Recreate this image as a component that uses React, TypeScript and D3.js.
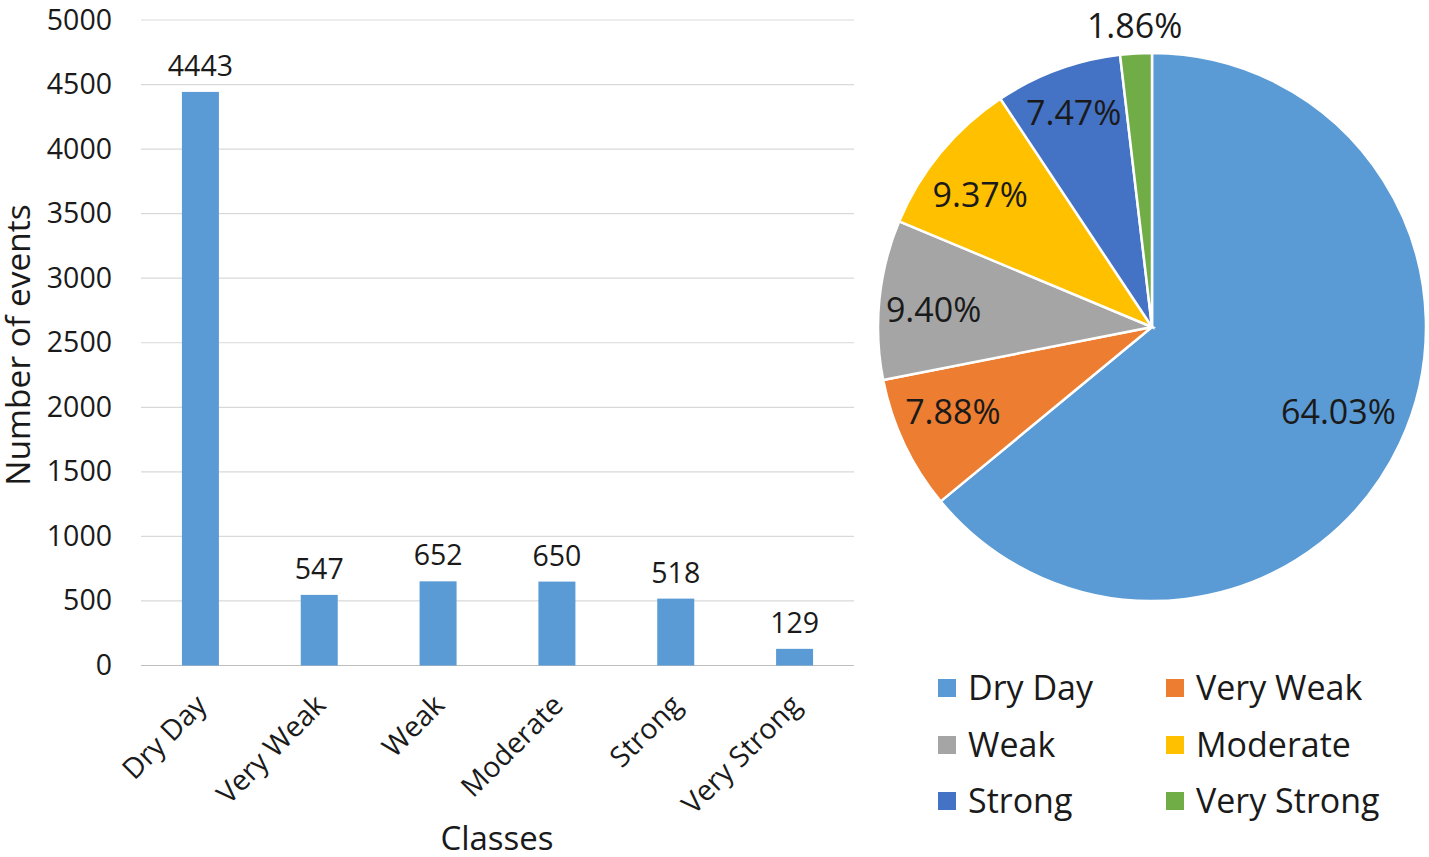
import { useEffect, useRef } from "react";
import * as d3 from "d3";

const classes = ["Dry Day", "Very Weak", "Weak", "Moderate", "Strong", "Very Strong"];
const counts = [4443, 547, 652, 650, 518, 129];
const yTicks = [0, 500, 1000, 1500, 2000, 2500, 3000, 3500, 4000, 4500, 5000];
const shares = [64.03, 7.88, 9.40, 9.37, 7.47, 1.86];
const shareLabels = ["64.03%", "7.88%", "9.40%", "9.37%", "7.47%", "1.86%"];
const colors = ["#5b9bd5", "#ed7d31", "#a5a5a5", "#ffc000", "#4472c4", "#70ad47"];

const FONT = "Open Sans, 'Noto Sans', sans-serif";
const TEXT = "#1a1a1a";

export default function App() {
  const ref = useRef<SVGSVGElement | null>(null);

  useEffect(() => {
    const svg = d3.select(ref.current);
    svg.selectAll("*").remove();

    // bar chart
    const x = d3.scaleBand().domain(classes).range([141, 854]);
    const y = d3.scaleLinear().domain([0, 5000]).range([665.5, 20]);
    const barW = 37;

    const g = svg.append("g");
    g.selectAll("line.grid")
      .data(yTicks)
      .join("line")
      .attr("class", "grid")
      .attr("x1", 141)
      .attr("x2", 854)
      .attr("y1", d => y(d))
      .attr("y2", d => y(d))
      .attr("stroke", d => (d === 0 ? "#bfbfbf" : "#d9d9d9"))
      .attr("stroke-width", 1.2);

    g.selectAll("text.tick")
      .data(yTicks)
      .join("text")
      .attr("class", "tick")
      .attr("x", 112)
      .attr("y", d => y(d) + 9.5)
      .attr("text-anchor", "end")
      .attr("font-size", 28.5)
      .attr("fill", TEXT)
      .text(d => d);

    g.selectAll("rect")
      .data(classes)
      .join("rect")
      .attr("x", d => x(d)! + x.bandwidth() / 2 - barW / 2)
      .attr("width", barW)
      .attr("y", (_, i) => y(counts[i]))
      .attr("height", (_, i) => y(0) - y(counts[i]))
      .attr("fill", colors[0]);

    g.selectAll("text.val")
      .data(classes)
      .join("text")
      .attr("class", "val")
      .attr("x", d => x(d)! + x.bandwidth() / 2)
      .attr("y", (_, i) => y(counts[i]) - 16)
      .attr("text-anchor", "middle")
      .attr("font-size", 28.5)
      .attr("fill", TEXT)
      .text((_, i) => counts[i]);

    g.selectAll("text.cat")
      .data(classes)
      .join("text")
      .attr("class", "cat")
      .attr("text-anchor", "end")
      .attr("font-size", 28.5)
      .attr("fill", TEXT)
      .attr("transform", d => `translate(${x(d)! + x.bandwidth() / 2 + 8},${707}) rotate(-45)`)
      .text(d => d);

    g.append("text")
      .attr("transform", "translate(30,345) rotate(-90)")
      .attr("text-anchor", "middle")
      .attr("font-size", 33.5)
      .attr("fill", TEXT)
      .text("Number of events");

    g.append("text")
      .attr("x", 497)
      .attr("y", 850)
      .attr("text-anchor", "middle")
      .attr("font-size", 33)
      .attr("fill", TEXT)
      .text("Classes");

    // pie
    const pieG = svg.append("g").attr("transform", "translate(1152,327)");
    const r = 274;
    const pie = d3.pie<number>().sort(null)(shares);
    const arc = d3.arc<d3.PieArcDatum<number>>().innerRadius(0).outerRadius(r);

    pieG.selectAll("path")
      .data(pie)
      .join("path")
      .attr("d", arc)
      .attr("fill", (_, i) => colors[i])
      .attr("stroke", "#fff")
      .attr("stroke-width", 2.5);

    // label spots along each slice's middle, then nudged by hand
    const labelR = [0.72, 0.78, 0.86, 0.78, 0.83, 1.09];
    const nudge = [[8, 1], [-6, -7], [16, 6], [-7, 4], [0, -1], [0, -3]];
    pieG.selectAll("text")
      .data(pie)
      .join("text")
      .attr("transform", (d, i) => {
        const a = (d.startAngle + d.endAngle) / 2;
        const lx = Math.sin(a) * r * labelR[i] + nudge[i][0];
        const ly = -Math.cos(a) * r * labelR[i] + nudge[i][1];
        return `translate(${lx},${ly})`;
      })
      .attr("text-anchor", "middle")
      .attr("dy", "0.36em")
      .attr("font-size", 34)
      .attr("fill", TEXT)
      .text((_, i) => shareLabels[i]);

    // legend: two columns, three rows
    const legendX = d3.scaleOrdinal<number, number>().domain([0, 1]).range([938, 1166]);
    const legendY = d3.scaleOrdinal<number, number>().domain([0, 1, 2]).range([688, 745, 801]);
    const leg = svg.append("g");
    classes.forEach((c, i) => {
      const lx = legendX(i % 2);
      const ly = legendY(Math.floor(i / 2));
      leg.append("rect").attr("x", lx).attr("y", ly - 9).attr("width", 18).attr("height", 18).attr("fill", colors[i]);
      leg.append("text")
        .attr("x", lx + 30)
        .attr("y", ly + 12)
        .attr("font-size", 34)
        .attr("fill", TEXT)
        .text(c);
    });
  }, []);

  return (
    <svg
      ref={ref}
      width={1429}
      height={857}
      style={{ position: "absolute", left: 0, top: 0, fontFamily: FONT, background: "#fff" }}
    />
  );
}
